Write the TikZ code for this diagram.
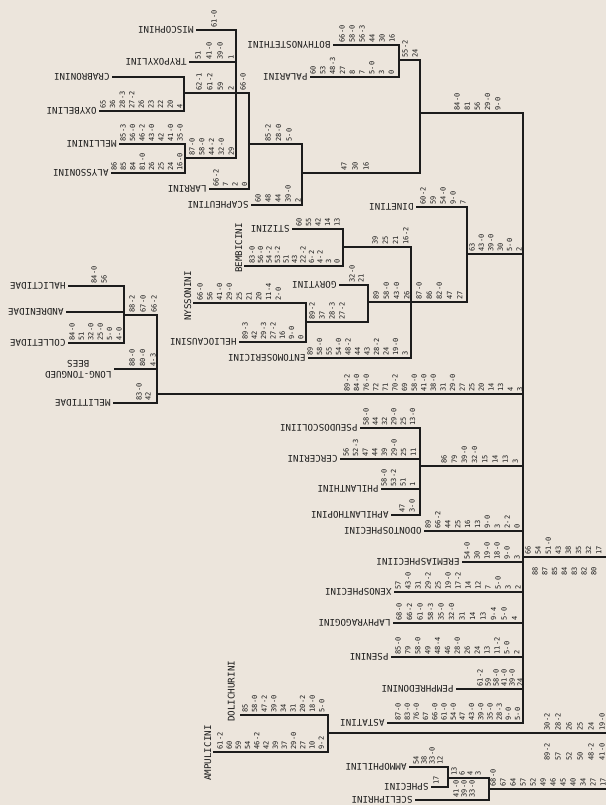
\documentclass[tikz,border=0pt]{standalone}
\usepackage{fontspec}
\usepackage{tikz}
\usetikzlibrary{positioning}
\newfontfamily\cladefont{DejaVu Sans Mono}
\definecolor{paper}{HTML}{ECE5DC}
\definecolor{ink}{HTML}{1C1C1C}
% character states along a branch: first x, branch y, spacing, list
\newcommand\charstates[4]{%
  \foreach \s [count=\k from 0] in {#4}
    \node[st] at ({#1+\k*#3},{#2-2.5}) {\s};}

\begin{document}
\begin{tikzpicture}[x=1pt, y=-1pt,
  taxon/.style={rotate=180, anchor=west, inner sep=0pt, outer sep=2.5pt, text=ink,
                font=\cladefont\fontsize{9.2}{11}\selectfont},
  vtaxon/.style={rotate=90, inner sep=0pt, text=ink,
                 font=\cladefont\fontsize{9.2}{11}\selectfont},
  st/.style={rotate=90, anchor=west, inner sep=0pt, text=ink,
             font=\cladefont\fontsize{7}{8}\selectfont},
  br/.style={draw=ink, line width=1.3pt}
]
\useasboundingbox (0,0) rectangle (606,805);
\fill[paper] (0,0) rectangle (606,805);

% --- internal nodes: (vertical x, stem y) ---
\coordinate (n-crox)   at (184,93);
\coordinate (n-meal)   at (185,158);
\coordinate (n-crab4)  at (236,93);
\coordinate (n-larr)   at (249,144);
\coordinate (n-scap)   at (302,173);
\coordinate (n-palb)   at (399,60);
\coordinate (n-crabro) at (420,113);
\coordinate (n-stbe)   at (343,247);
\coordinate (n-nyhe)   at (306,322);
\coordinate (n-gony)   at (368,302);
\coordinate (n-bemb)   at (411,302);
\coordinate (n-dine)   at (467,254);
\coordinate (n-hac)    at (124,315);
\coordinate (n-bees)   at (157,394);
\coordinate (n-phil)   at (420,466);
\coordinate (n-apo)    at (523,557);
\coordinate (n-amp)    at (328,733);
\coordinate (n-amsp)   at (448,778);
\coordinate (n-sph)    at (489,789);
\coordinate (root)     at (606,733);

% --- terminal taxa (upside down) ---
\node[taxon] (misco) at (196,30)  {MISCOPHINI};
\node[taxon] (trypo) at (189,62)  {TRYPOXYLINI};
\node[taxon] (crab)  at (112,77)  {CRABRONINI};
\node[taxon] (oxyb)  at (99,111)  {OXYBELINI};
\node[taxon] (mell)  at (119,144) {MELLININI};
\node[taxon] (alys)  at (111,173) {ALYSSONINI};
\node[taxon] (larr)  at (209,189) {LARRINI};
\node[taxon] (scap)  at (251,205) {SCAPHEUTINI};
\node[taxon] (both)  at (333,45)  {BOTHYNOSTETHINI};
\node[taxon] (pala)  at (310,77)  {PALARINI};
\node[taxon] (dine)  at (416,207) {DINETINI};
\node[taxon] (stiz)  at (292,229) {STIZINI};
\node[taxon] (gory)  at (339,285) {GORYTINI};
\node[taxon] (heli)  at (239,342) {HELIOCAUSINI};
\node[taxon] (ento)  at (308,358) {ENTOMOSERICINI};
\node[taxon] (hali)  at (68,286)  {HALICTIDAE};
\node[taxon] (andr)  at (66,312)  {ANDRENIDAE};
\node[taxon] (coll)  at (68,343)  {COLLETIDAE};
\node[taxon, align=center] (ltb) at (114,369) {LONG-TONGUED\\BEES};
\node[taxon] (meli)  at (113,403) {MELITTIDAE};
\node[taxon] (pseu)  at (360,428) {PSEUDOSCOLIINI};
\node[taxon] (cerc)  at (340,459) {CERCERINI};
\node[taxon] (phil)  at (381,489) {PHILANTHINI};
\node[taxon] (aphi)  at (391,515) {APHILANTHOPINI};
\node[taxon] (odon)  at (424,531) {ODONTOSPHECINI};
\node[taxon] (erem)  at (462,562) {EREMIASPHECIINI};
\node[taxon] (xeno)  at (394,592) {XENOSPHECINI};
\node[taxon] (laph)  at (393,623) {LAPHYRAGOGINI};
\node[taxon] (psen)  at (391,657) {PSENINI};
\node[taxon] (pemp)  at (456,689) {PEMPHREDONINI};
\node[taxon] (asta)  at (387,723) {ASTATINI};
\node[taxon] (ammo)  at (409,767) {AMMOPHILINI};
\node[taxon] (sphe)  at (431,787) {SPHECINI};
\node[taxon] (scel)  at (415,800) {SCELIPHRINI};

% --- taxa written upwards ---
\coordinate (c-nyss) at (193,303);
\coordinate (c-bemb) at (244,266);
\coordinate (c-ampu) at (213,752);
\coordinate (c-doli) at (240,715);
\node[vtaxon, anchor=south west] (nyss) at (191.5,321) {NYSSONINI};
\node[vtaxon, anchor=south west] (bemb) at (242.5,273) {BEMBICINI};
\node[vtaxon, anchor=south]      (ampu) at (211.5,753) {AMPULICINI};
\node[vtaxon, anchor=south west] (doli) at (235,722)   {DOLICHURINI};

% --- branches ---
\draw[br] (misco) -| (n-crab4);
\draw[br] (trypo) -| (n-crab4);
\draw[br] (crab) -| (n-crox);
\draw[br] (oxyb) -| (n-crox);
\draw[br] (n-crox) -| (n-crab4);
\draw[br] (mell) -| (n-meal);
\draw[br] (alys) -| (n-meal);
\draw[br] (n-meal) -| (n-crab4);
\draw[br] (n-crab4) -| (n-larr);
\draw[br] (larr) -| (n-larr);
\draw[br] (n-larr) -| (n-scap);
\draw[br] (scap) -| (n-scap);
\draw[br] (both) -| (n-palb);
\draw[br] (pala) -| (n-palb);
\draw[br] (n-palb) -| (n-crabro);
\draw[br] (n-scap) -| (n-crabro);
\draw[br] (n-crabro) -| (n-apo);

\draw[br] (stiz) -| (n-stbe);
\draw[br] (c-bemb) -| (n-stbe);
\draw[br] (n-stbe) -| (n-bemb);
\draw[br] (gory) -| (n-gony);
\draw[br] (c-nyss) -| (n-nyhe);
\draw[br] (heli) -| (n-nyhe);
\draw[br] (n-nyhe) -| (n-gony);
\draw[br] (n-gony) -| (n-bemb);
\draw[br] (ento) -| (n-bemb);
\draw[br] (dine) -| (n-dine);
\draw[br] (n-bemb) -| (n-dine);
\draw[br] (n-dine) -| (n-apo);

\draw[br] (hali) -| (n-hac);
\draw[br] (andr) -| (n-hac);
\draw[br] (coll) -| (n-hac);
\draw[br] (n-hac) -| (n-bees);
\draw[br] (ltb) -| (n-bees);
\draw[br] (meli) -| (n-bees);
\draw[br] (n-bees) -| (n-apo);

\draw[br] (pseu) -| (n-phil);
\draw[br] (cerc) -| (n-phil);
\draw[br] (phil) -| (n-phil);
\draw[br] (aphi) -| (n-phil);
\draw[br] (n-phil) -| (n-apo);

\draw[br] (odon) -| (n-apo);
\draw[br] (erem) -| (n-apo);
\draw[br] (xeno) -| (n-apo);
\draw[br] (laph) -| (n-apo);
\draw[br] (psen) -| (n-apo);
\draw[br] (pemp) -| (n-apo);
\draw[br] (asta) -| (n-apo);
\draw[br] (n-apo) -- (n-apo -| root);

\draw[br] (c-ampu) -| (n-amp);
\draw[br] (c-doli) -| (n-amp);
\draw[br] (n-amp) -- (n-amp -| root);

\draw[br] (ammo) -| (n-amsp);
\draw[br] (sphe) -| (n-amsp);
\draw[br] (n-amsp) -| (n-sph);
\draw[br] (scel) -| (n-sph);
\draw[br] (n-sph) -- (n-sph -| root);

% --- character states ---
\charstates{214}{30}{10}{61-0}
\charstates{198}{62}{11}{51,41-0,39-0,1}
\charstates{103}{111}{9.6}{65,36,28-3,27-2,26,23,22,20,4}
\charstates{199}{93}{10.7}{62-1,61-2,59,2}
\charstates{123}{144}{9.5}{85-3,56-0,46-2,43-0,42,41-0,35-0}
\charstates{114}{173}{9.4}{86,85,84,81-0,26,25,24,16-0}
\charstates{192}{158}{9.8}{87-0,58-0,44-2,32-0,29}
\charstates{216}{189}{9.5}{66-2,7,2,0}
\charstates{243}{93}{10}{66-0}
\charstates{268}{144}{10.5}{85-2,28-0,5-0}
\charstates{258}{205}{10}{60,48,44,39-0,2}
\charstates{344}{173}{11}{47,30,16}
\charstates{342}{45}{10}{66-0,58-0,56-3,44,30,16}
\charstates{313}{77}{9.8}{60,53,48-3,27,8,7,5-0,3,0}
\charstates{405}{60}{10}{55-2,24}
\charstates{457}{113}{10.2}{84-0,81,56,29-0,9-0}

\charstates{423}{207}{10}{60-2,59,54-0,9-0,7}
\charstates{299}{229}{9.5}{60,55,42,14,13}
\charstates{252}{266}{8.5}{83-0,56-0,54-2,53-2,51,43,22-2,6-2,4-2,3,0}
\charstates{375}{247}{10.3}{39,25,21,16-2}
\charstates{352}{285}{9}{32-0,21}
\charstates{200}{303}{9.8}{66-0,56,41-0,29-0,25,21,20,11-4,2-0}
\charstates{245}{342}{9.3}{89-3,42,29-3,27-2,16,9-0,0}
\charstates{312}{322}{10}{89-2,37,28-3,27-2}
\charstates{376}{302}{10.3}{89,58-0,43-0,26}
\charstates{310}{358}{9.5}{89,58-0,55,54-0,48-2,44,43,28-2,24,19-0,3}
\charstates{419}{302}{10.2}{87-0,86,82-0,47,27}
\charstates{472}{254}{9.4}{63,43-0,39-0,30,5-0,2}

\charstates{94}{286}{10}{84-0,56}
\charstates{72}{343}{9.4}{84-0,51,32-0,25-0,5-0,4-0}
\charstates{132}{315}{11}{88-2,67-0,66-2}
\charstates{132}{369}{10.5}{88-0,80-0,4-3}
\charstates{139}{403}{9}{83-0,42}
\charstates{347}{394}{9.6}{89-2,84-0,76-0,72,71,70-2,69,58-0,41-0,38-0,31,29-0,27,25,20,14,13,4,3}

\charstates{366}{428}{9.3}{58-0,44,32,29-0,25,13-0}
\charstates{346}{459}{9.6}{56,52-3,47,44,39,29-0,25,11}
\charstates{384}{489}{9.5}{58-0,53-2,51,1}
\charstates{402}{515}{10}{47,3-0}
\charstates{444}{466}{10.2}{86,79,39-0,32-0,15,14,13,3}
\charstates{428}{531}{9.9}{89,66-2,44,25,16,13,9-0,3,2-2,0}
\charstates{467}{562}{10}{54-0,30,19-0,18-0,9-0,3}
\charstates{528}{557}{10.1}{66,54,51-0,43,38,35,32,17}
\charstates{535}{578}{9.8}{88,87,85,84,83,82,80}
\charstates{398}{592}{10}{57,43-0,31,29-2,25,19-0,17-2,14,12,7,5-0,3,2}
\charstates{399}{623}{10.5}{68-0,66-2,61-0,58-3,35-0,32-0,31,14,13,9-4,5-0,4}
\charstates{398}{657}{9.9}{85-0,79,58-0,49,48-4,46,28-0,26,24,13,11-2,5-0,2}
\charstates{480}{689}{8}{61-2,59,58-0,41-0,39-0,24}
\charstates{398}{723}{9.2}{87-0,83-0,76-0,67,66-0,61-0,54-0,47,43-0,39-0,35-0,28-3,9-0,5-0}

\charstates{220}{752}{9.2}{61-2,60,59,54,46-2,42,39,37,29-0,27,10,9-2}
\charstates{245}{715}{9.6}{85,58-0,47-2,39-0,34,31,20-2,18-0,5-0}
\charstates{547}{733}{11}{30-2,28-2,26,25,24,19-0}
\charstates{547}{763}{11}{89-2,57,52,50,48-2,41-0}
\charstates{416}{767}{8}{54,38,33-0,12}
\charstates{436}{787}{10}{17}
\charstates{454}{778}{8}{13,6,4,3}
\charstates{456}{800}{8}{41-0,39-0,33-0}
\charstates{493}{789}{10}{68-0,67,64,57,52,49,46,45,40,34,27,17}
\end{tikzpicture}
\end{document}
